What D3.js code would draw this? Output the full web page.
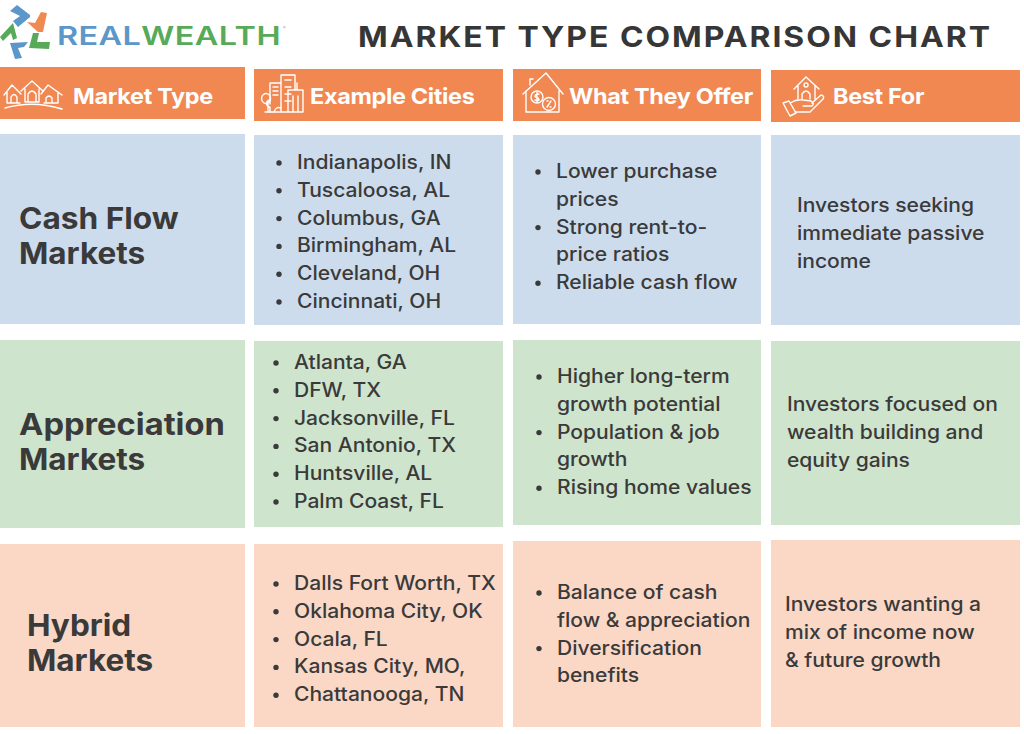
<!DOCTYPE html>
<html>
<head>
<meta charset="utf-8">
<script src="https://cdnjs.cloudflare.com/ajax/libs/d3/7.8.5/d3.min.js"></script>
<style>
html, body { margin: 0; padding: 0; background: #fff; }
svg { display: block; }
text { font-family: Inter, "Open Sans", sans-serif; }
</style>
</head>
<body>
<svg id="chart" width="1024" height="734"></svg>
<script>
"use strict";
var title = "MARKET TYPE COMPARISON CHART";
var headers = ["Market Type", "Example Cities", "What They Offer", "Best For"];
var rowNames = [["Cash Flow", "Markets"], ["Appreciation", "Markets"], ["Hybrid", "Markets"]];
var cities = [
    ["Indianapolis, IN", "Tuscaloosa, AL", "Columbus, GA", "Birmingham, AL", "Cleveland, OH", "Cincinnati, OH"],
    ["Atlanta, GA", "DFW, TX", "Jacksonville, FL", "San Antonio, TX", "Huntsville, AL", "Palm Coast, FL"],
    ["Dalls Fort Worth, TX", "Oklahoma City, OK", "Ocala, FL", "Kansas City, MO,", "Chattanooga, TN"]
];
// each offer is one bullet, split into its wrapped lines
var offers = [
    [["Lower purchase", "prices"], ["Strong rent-to-", "price ratios"], ["Reliable cash flow"]],
    [["Higher long-term", "growth potential"], ["Population & job", "growth"], ["Rising home values"]],
    [["Balance of cash", "flow & appreciation"], ["Diversification", "benefits"]]
];
var bestFor = [
    ["Investors seeking", "immediate passive", "income"],
    ["Investors focused on", "wealth building and", "equity gains"],
    ["Investors wanting a", "mix of income now", "& future growth"]
];

var svg = d3.select("#chart");
var DARK = "#3a3a3a", ORANGE = "#f18751";
var rowColors = ["#cddcec", "#cfe4cc", "#fbd8c6"];
var LINE = 27.8;

// box edges per column: the source graphic is hand placed so they are a bit uneven
var colEdges = [[0, 245], [254, 503], [513, 761], [771, 1020]];
var headEdges = [[67, 119], [69, 121], [69, 121], [70, 122]];
var rowEdges = [
    [[134, 324], [135, 325], [135, 324], [135, 325]],
    [[340, 528], [341, 527], [340, 525], [341, 525]],
    [[544, 727], [544, 727], [541, 727], [540, 727]]
];

function box(col, y, color) {
    svg.append("rect")
        .attr("x", colEdges[col][0]).attr("y", y[0])
        .attr("width", colEdges[col][1] - colEdges[col][0])
        .attr("height", y[1] - y[0])
        .attr("fill", color);
}

// Inter is narrower than the original face, sx widens it from the left edge
function label(x, y, str, size, weight, color, sx) {
    return svg.append("text")
        .attr("transform", "translate(" + x + "," + y + ") scale(" + (sx || 1) + ",1)")
        .attr("font-size", size).attr("font-weight", weight)
        .attr("fill", color).text(str);
}

headers.forEach(function (h, i) {
    box(i, headEdges[i], ORANGE);
});
rowEdges.forEach(function (edges, r) {
    edges.forEach(function (e, c) { box(c, e, rowColors[r]); });
});

// title and logo
label(358, 47, title, 28.5, 700, "#363636", 1.12).attr("letter-spacing", 1.76);
var word = label(57, 45, "", 25, 600, "#5b97cb", 1.295).attr("letter-spacing", 0.35);
word.append("tspan").text("REAL");
word.append("tspan").attr("fill", "#57aa57").text("WEALTH");
label(283, 29, "®", 4, 400, "#999");

var logoArrows = [
    {c: "#5b97cb", p: "M10 11 L17 5 L30 15 L30 17 L18 27 L13 21 L20 16Z"},
    {c: "#ef8a50", p: "M27 22 L35 23 L41 12 L47 13 L43 32 L38 32Z"},
    {c: "#57aa57", p: "M0 37 L13 23 L17 38 L13 40 L11 33 L3 41Z"},
    {c: "#57aa57", p: "M29 48 L33 33 L39 33 L37 42 L50 42 L49 49Z"},
    {c: "#5b97cb", p: "M10 43 L28 42 L24 47 L18 48 L22 58 L15 59Z"}
];
svg.selectAll("path.logo").data(logoArrows).enter().append("path")
    .attr("class", "logo")
    .attr("d", function (d) { return d.p; })
    .attr("fill", function (d) { return d.c; });

// header labels
var headX = [73, 310, 569, 833];
headers.forEach(function (h, i) {
    label(headX[i], 104, h, 22, 700, "#fff", 1.065).attr("letter-spacing", -0.3);
});

// header icons, white outlines
var icons = svg.append("g").attr("fill", "none").attr("stroke", "#fff")
    .attr("stroke-width", 1.4).attr("stroke-linejoin", "round").attr("stroke-linecap", "round");
[
    // houses
    "M4 95 L12 85 L21 94 M7 92 V103 H20 M11 103 V97 Q14 92 17 97 V103",
    "M21 91 L32 81 L43 91 M25 89 V102 H39 V89 M28 102 V94 Q32 88 36 94 V102",
    "M41 94 L48 85 L62 95 M58 92 V103 H44 M46 103 V98 Q49 94 52 98 V103",
    "M5 108 Q33 100 62 109",
    // buildings
    "M265 112 H303 M270 104 V83 H281 M281 112 V75 H295 V90 M288 112 V90 H303 V112 M297 90 V83 M293 112 V96 M298 112 V96",
    "M285 80 H291 M285 87 H291 M285 94 H291 M285 101 H291 M273 87 H278 M273 91 H278 M273 95 H278",
    "M268 112 V102 M268 103 A4.5 5 0 1 1 268 94 A4.5 5 0 0 1 268 103 M270 112 V107 M270 107 A3.5 3.5 0 1 1 270 100",
    "M274 112 Q276 106 281 108",
    // house with coins
    "M523 94 L546 73 L563 94 M526 91 V112 H559 V91 M530 85 V79 H533",
    "M531 97 a6 6 0 1 0 12 0 a6 6 0 1 0 -12 0 M542.500 104 a6.500 6.500 0 1 0 13 0 a6.500 6.500 0 1 0 -13 0",
    "M539 94 Q535 94 535 96.500 Q539 98 539 100 Q537 101 535 100 M537 92.500 V102 M547 107 L551 101 M547 101 h1 M550 107 h1",
    // hand holding house
    "M794 89 L806 77 L819 89 M798 86 V99 M815 86 V99 M802 99 V94 Q806 88 810 94 V99 M804 85 a2 2 0 1 0 4 0 a2 2 0 1 0 -4 0",
    "M783 103 L789 101 L796 113 L790 116 Z M790 103 Q797 99 803 100 L811 101 Q815 104 812 106 H803 M812 103 L821 95 Q825 96 823 99 L810 112 H795"
].forEach(function (d) { icons.append("path").attr("d", d); });

// first column, row names
var nameX = [19, 19, 27], nameY = [229, 435, 636], nameSx = [1.055, 1.09, 1.05];
rowNames.forEach(function (lines, r) {
    lines.forEach(function (t, i) {
        label(nameX[r], nameY[r] + i * 34.5, t, 30, 700, DARK, i === 0 ? nameSx[r] : 1.05);
    });
});

function bullet(x, y) {
    svg.append("circle").attr("cx", x).attr("cy", y - 6).attr("r", 2.7).attr("fill", DARK);
}

var BODY = 19.5, BODY_SX = 1.08;

// example cities
var cityX = [297, 294, 294], cityY = [169, 369, 590];
cities.forEach(function (list, r) {
    list.forEach(function (t, i) {
        var y = cityY[r] + i * LINE;
        bullet(cityX[r] - 18, y);
        label(cityX[r], y, t, BODY, 500, DARK, BODY_SX);
    });
});

// what they offer
var offerX = [556, 557, 557], offerY = [178, 383, 599];
offers.forEach(function (list, r) {
    var n = 0;
    list.forEach(function (lines) {
        bullet(offerX[r] - 18, offerY[r] + n * LINE);
        lines.forEach(function (t) {
            label(offerX[r], offerY[r] + n * LINE, t, BODY, 500, DARK, BODY_SX);
            n += 1;
        });
    });
});

// best for
var bestX = [797, 787, 785], bestY = [212, 411, 611];
bestFor.forEach(function (lines, r) {
    lines.forEach(function (t, i) {
        label(bestX[r], bestY[r] + i * LINE, t, BODY, 500, DARK, BODY_SX);
    });
});
</script>
</body>
</html>
